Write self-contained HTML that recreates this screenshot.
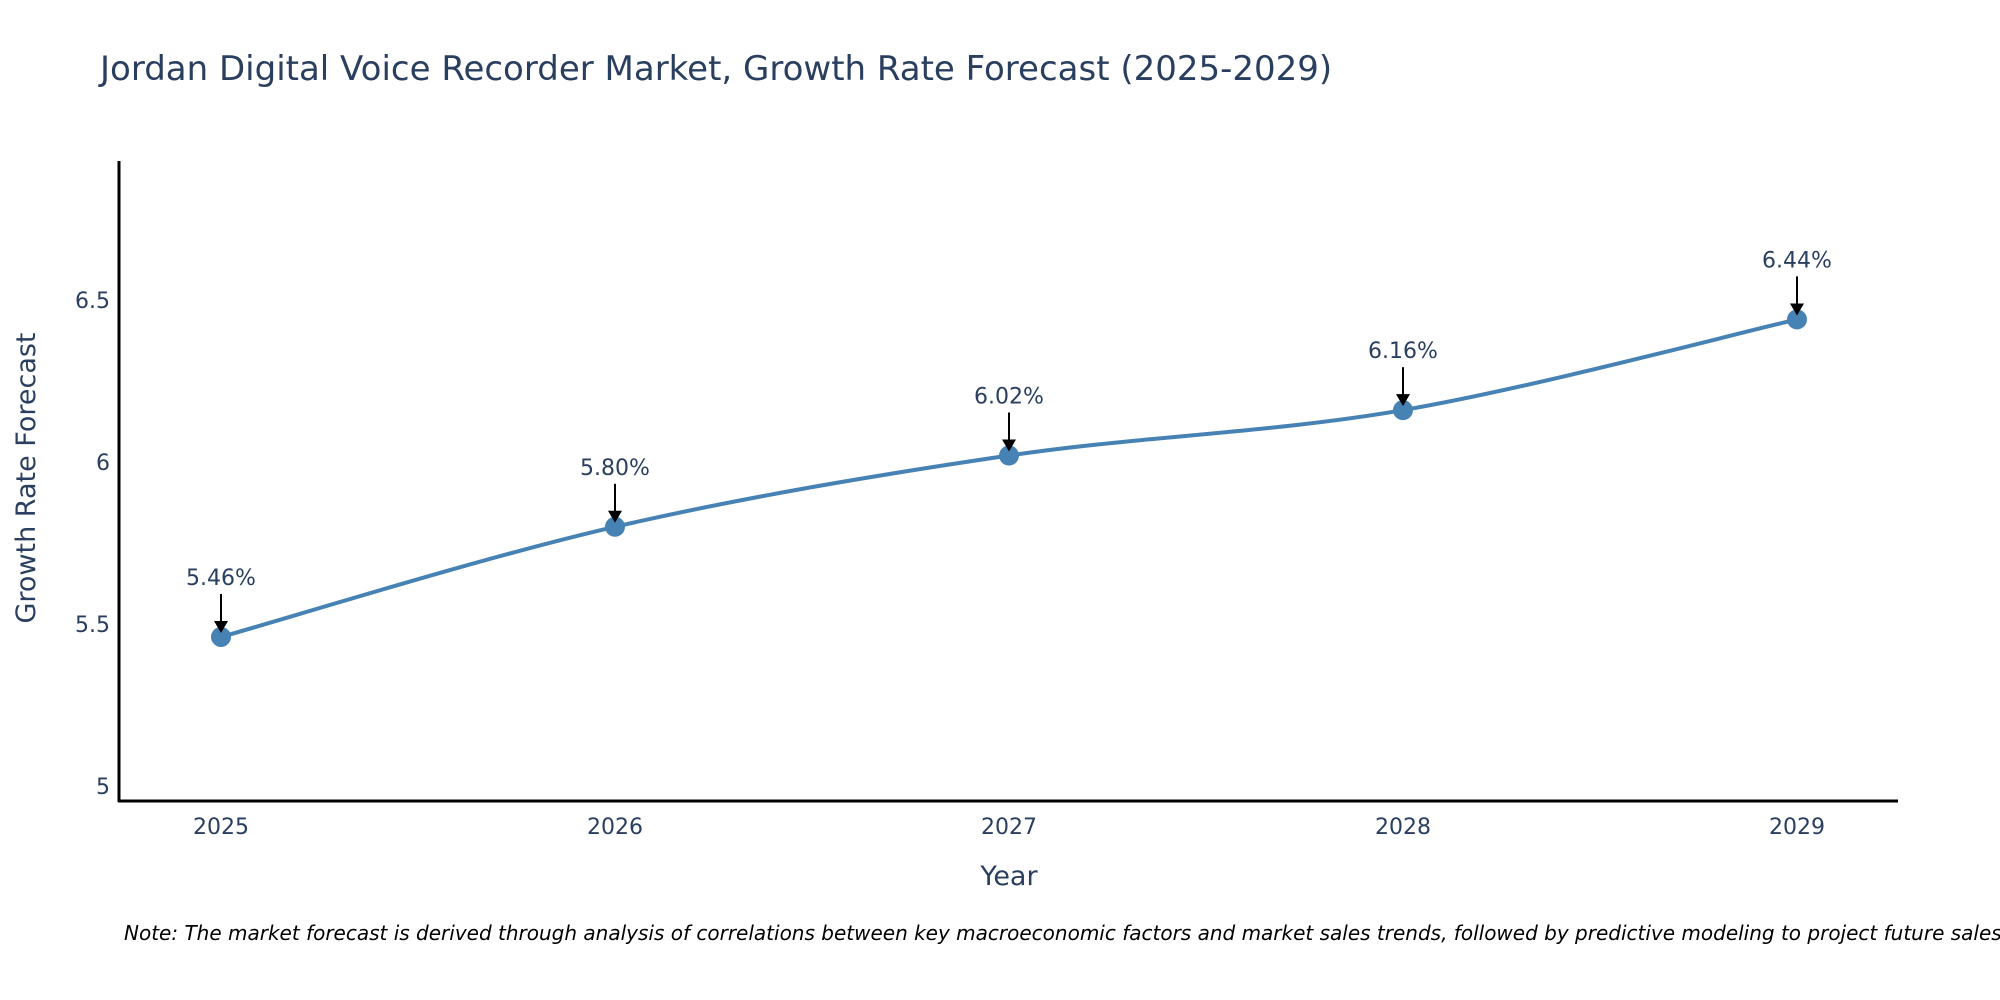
<!DOCTYPE html>
<html><head><meta charset="utf-8"><style>
body{margin:0;background:#fff;}
svg{display:block;font-family:"DejaVu Sans","Liberation Sans",sans-serif;}
</style></head><body>
<svg id="chart" width="2000" height="1000">
<text x="100" y="80" font-size="34" fill="#2a3f5f">Jordan Digital Voice Recorder Market, Growth Rate Forecast (2025-2029)</text>
<g id="yticks"></g>
<g id="xticks"></g>
<line x1="119" y1="161" x2="119" y2="802" stroke="#000" stroke-width="3"/>
<line x1="118" y1="801" x2="1898" y2="801" stroke="#000" stroke-width="3"/>
<path id="line" fill="none" stroke="#4682b4" stroke-width="4"/>
<g id="points"></g>
<g id="annots"></g>
<text x="1009" y="885" font-size="27" fill="#2a3f5f" text-anchor="middle">Year</text>
<text transform="translate(35,478) rotate(-90)" font-size="27" fill="#2a3f5f" text-anchor="middle">Growth Rate Forecast</text>
<text x="124" y="940" font-size="20" font-style="italic" fill="#000">Note: The market forecast is derived through analysis of correlations between key macroeconomic factors and market sales trends, followed by predictive modeling to project future sales.</text>
</svg>
<script>
const years = [2025, 2026, 2027, 2028, 2029];
const values = [5.46, 5.80, 6.02, 6.16, 6.44];
const labels = ["5.46%", "5.80%", "6.02%", "6.16%", "6.44%"];
const yTicks = [5, 5.5, 6, 6.5];
const yTickLabels = ["5", "5.5", "6", "6.5"];
const NS = "http://www.w3.org/2000/svg";
function xS(v){return 221 + (v-2025)*(1797-221)/4;}
function yS(v){return 786 - (v-5)*324;}
function mk(tag, attrs, parent, txt){const e=document.createElementNS(NS,tag);for(const k in attrs)e.setAttribute(k,attrs[k]);if(txt!==undefined)e.textContent=txt;parent.appendChild(e);return e;}
const yt=document.getElementById('yticks');
yTicks.forEach((t,i)=>{const e=mk('text',{x:110,y:yS(t)+8,'font-size':22,fill:'#2a3f5f','text-anchor':'end'},yt,yTickLabels[i]);

});
const xt=document.getElementById('xticks');
years.forEach(y=>{const e=mk('text',{x:xS(y),y:834,'font-size':22,fill:'#2a3f5f','text-anchor':'middle'},xt,String(y));

});
const P=years.map((y,i)=>[xS(y),yS(values[i])]);
let d=`M${P[0][0]},${P[0][1]}`;
for(let i=0;i<P.length-1;i++){const p0=P[i-1]||P[i],p1=P[i],p2=P[i+1],p3=P[i+2]||P[i+1];const t=0.5/3*2;
d+=` C${p1[0]+(p2[0]-p0[0])*t/2},${p1[1]+(p2[1]-p0[1])*t/2} ${p2[0]-(p3[0]-p1[0])*t/2},${p2[1]-(p3[1]-p1[1])*t/2} ${p2[0]},${p2[1]}`;}
document.getElementById('line').setAttribute('d',d);
const pg=document.getElementById('points'),ag=document.getElementById('annots');
P.forEach((p,i)=>{const c=mk('circle',{cx:p[0],cy:p[1],r:10,fill:'#4682b4'},pg);


const l=mk('line',{x1:p[0],y1:p[1]-43,x2:p[0],y2:p[1]-14,stroke:'#000','stroke-width':2},ag);


const h=mk('path',{d:`M${p[0]-7},${p[1]-16} L${p[0]+7},${p[1]-16} L${p[0]},${p[1]-4} Z`,fill:'#000'},ag);


const t=mk('text',{x:p[0],y:p[1]-52,'font-size':22,fill:'#2a3f5f','text-anchor':'middle'},ag,labels[i]);

});
</script>
</body></html>
